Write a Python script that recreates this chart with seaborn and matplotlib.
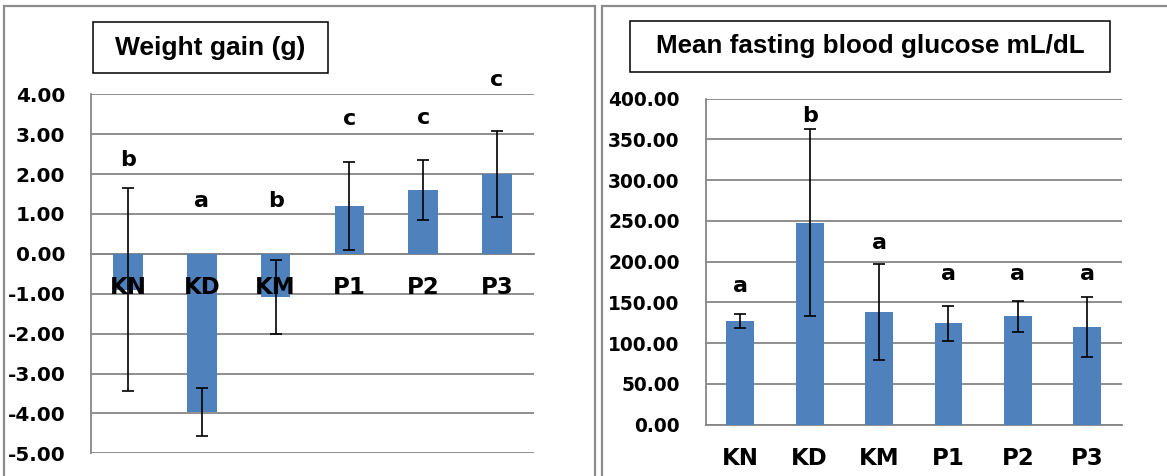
import matplotlib
matplotlib.use("Agg")
import matplotlib.pyplot as plt
from matplotlib.patches import Rectangle
import seaborn as sns
import pandas as pd

# ---- data ----
groups = ["KN", "KD", "KM", "P1", "P2", "P3"]
weight_gain = [-0.90, -3.96, -1.08, 1.20, 1.60, 2.00]
weight_gain_err = [2.55, 0.60, 0.93, 1.11, 0.75, 1.07]
weight_letters = ["b", "a", "b", "c", "c", "c"]
weight_letter_y = [2.19, 1.18, 1.18, 3.23, 3.25, 4.21]

glucose = [127.3, 248.0, 138.0, 124.5, 133.0, 120.0]
glucose_err = [8.6, 115.0, 59.0, 21.5, 19.0, 37.0]
glucose_letters = ["a", "b", "a", "a", "a", "a"]
glucose_letter_y = [163, 372, 216, 177, 177, 177]

weight_ticks = [4.00, 3.00, 2.00, 1.00, 0.00, -1.00, -2.00, -3.00, -4.00, -5.00]
glucose_ticks = [400, 350, 300, 250, 200, 150, 100, 50, 0]

title_left = "Weight gain (g)"
title_right = "Mean fasting blood glucose mL/dL"

# ---- style ----
sns.set_theme(style="white")
plt.rcParams["font.family"] = ["DejaVu Sans"]
plt.rcParams["font.weight"] = "bold"

BAR = "#4F81BD"
GRID = "#868686"
W, H = 1167, 476

fig = plt.figure(figsize=(W / 100, H / 100), dpi=100)
fig.patch.set_facecolor("white")


def fx(px):
    return px / W


def fy(py):
    return 1 - py / H


ax1 = fig.add_axes([fx(91), fy(453.3), fx(534 - 91), (453.3 - 94.3) / H])
ax2 = fig.add_axes([fx(705.5), fy(424.7), fx(1122 - 705.5), (424.7 - 98.7) / H])

df1 = pd.DataFrame({"group": groups, "value": weight_gain})
df2 = pd.DataFrame({"group": groups, "value": glucose})


def draw(ax, df, err, letters, letter_y, ticks, ylim, fmt, xtick_len, ysize):
    sns.barplot(data=df, x="group", y="value", color=BAR, width=0.4,
                errorbar=None, saturation=1, linewidth=0, edgecolor=BAR,
                ax=ax, zorder=2)
    ax.errorbar(range(len(df)), df["value"], yerr=err, fmt="none",
                ecolor="black", elinewidth=1.2, capsize=4, capthick=1.2,
                zorder=6)
    ax.set_xlim(-0.5, len(df) - 0.5)
    ax.set_ylim(*ylim)
    ax.set_yticks(ticks)
    ax.set_yticklabels([fmt.format(t) for t in ticks])
    ax.set_xlabel("")
    ax.set_ylabel("")
    ax.set_axisbelow(True)
    ax.xaxis.set_zorder(5)
    ax.yaxis.grid(True, color=GRID, linewidth=1.3)
    ax.xaxis.grid(False)
    for s in ("top", "right"):
        ax.spines[s].set_visible(False)
    ax.spines["left"].set_color(GRID)
    ax.spines["left"].set_linewidth(1.3)
    ax.spines["bottom"].set_color(GRID)
    ax.spines["bottom"].set_linewidth(1.3)
    ax.spines["bottom"].set_position(("data", 0))
    ax.spines["bottom"].set_zorder(1)
    ax.tick_params(axis="y", which="major", direction="out", length=6.5,
                   width=1.3, color=GRID, pad=12, labelsize=ysize)
    ax.set_xticks([i - 0.5 for i in range(len(df) + 1)], minor=True)
    ax.tick_params(axis="x", which="minor", direction="out",
                   length=xtick_len, width=1.3, color=GRID)
    ax.tick_params(axis="x", which="major", length=0, pad=16,
                   labelsize=16.5)
    for lab in ax.get_xticklabels() + ax.get_yticklabels():
        lab.set_fontweight("bold")
        lab.set_color("black")
    for i, (t, y) in enumerate(zip(letters, letter_y)):
        ax.text(i, y, t, ha="center", va="baseline", fontsize=16,
                fontweight="bold", color="black", zorder=7)
    ax.patch.set_alpha(0)


draw(ax1, df1, weight_gain_err, weight_letters, weight_letter_y,
     weight_ticks, (-5, 4), "{:.2f}", 5.8, 14.4)
draw(ax2, df2, glucose_err, glucose_letters, glucose_letter_y,
     glucose_ticks, (0, 400), "{:.2f}", 5.0, 13.4)

# panel borders
fig.add_artist(Rectangle((fx(4), -0.2), fx(595 - 4), 1.2 - 6 / H,
                         transform=fig.transFigure, fill=False,
                         edgecolor="#8c8c8c", linewidth=1.6))
fig.add_artist(Rectangle((fx(602), -0.2), 0.6, 1.2 - 6 / H,
                         transform=fig.transFigure, fill=False,
                         edgecolor="#8c8c8c", linewidth=1.6))

# title boxes
for (x0, x1, y0, y1, txt, fs) in [(93, 328, 22, 73, title_left, 19),
                                  (630, 1110, 21, 72, title_right, 18.7)]:
    fig.add_artist(Rectangle((fx(x0), fy(y1)), fx(x1 - x0), (y1 - y0) / H,
                             transform=fig.transFigure, fill=False,
                             edgecolor="black", linewidth=1.1))
    fig.text(fx((x0 + x1) / 2), fy((y0 + y1) / 2), txt, ha="center",
             va="center", fontsize=fs, fontweight="bold",
             family=["Liberation Sans", "DejaVu Sans"], color="black")

fig.savefig("out.png", dpi=100, facecolor="white")
